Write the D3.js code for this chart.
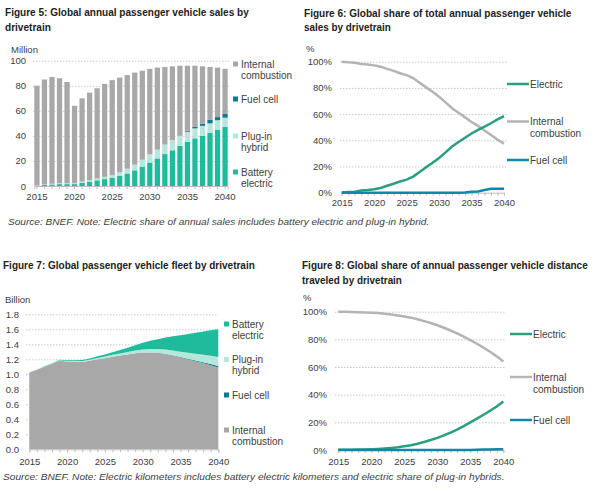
<!DOCTYPE html>
<html>
<head>
<meta charset="utf-8">
<script src="https://cdn.jsdelivr.net/npm/d3@7"></script>
<style>
  body { margin: 0; background: #fff; }
  text { font-family: "Liberation Sans", Arial, sans-serif; }
</style>
</head>
<body>
<svg id="chart" width="600" height="491"></svg>
<script>
// ---- data ----
var years = [2015, 2016, 2017, 2018, 2019, 2020, 2021, 2022, 2023, 2024, 2025, 2026, 2027,
  2028, 2029, 2030, 2031, 2032, 2033, 2034, 2035, 2036, 2037, 2038, 2039, 2040];
var labelYears = [2015, 2020, 2025, 2030, 2035, 2040];

// Figure 5: annual sales, million
var salesBEV = [0.5, 0.8, 1.2, 1.5, 1.5, 1.5, 2.5, 3.5, 4.5, 5.5, 6.5, 8, 10, 12.5, 15.5, 18.8,
  22, 25.5, 28.5, 32, 35.3, 38, 40, 42.5, 45, 47.3];
var salesPHEV = [0.3, 0.4, 0.6, 0.8, 0.7, 0.8, 1.0, 1.2, 1.5, 1.8, 2.3, 3, 3.8, 4.5, 5.5, 6.5,
  7, 7.5, 8, 8, 8, 8, 8, 7.5, 7.5, 7.2];
var salesFC = [0, 0, 0, 0, 0, 0, 0, 0, 0, 0, 0, 0, 0, 0, 0, 0, 0, 0, 0, 0.3, 0.8, 1.2, 1.8, 2.8, 2.5, 3];
var salesICE = [79.2, 83.8, 85.2, 83.7, 80.8, 61.7, 66.5, 69.8, 72, 74.2, 75.7, 75.5, 74.7, 73.5,
  71, 68.2, 65.5, 62, 59, 55.7, 51.9, 48.8, 45.7, 42.2, 39.5, 36];
var salesTicks = [20, 40, 60, 80, 100];

// Figure 6: share of annual sales, %
var shareSalesICE = [100, 99.5, 99.2, 98.2, 97.8, 97.2, 96.2, 94.5, 93, 91.2, 89.8, 87.5, 84, 80.4,
  77, 73.3, 69, 64.5, 61, 57.5, 54, 51, 47.5, 44, 40.5, 37.5];
var shareSalesElectric = [0.2, 0.5, 0.8, 1.6, 2, 2.6, 3.6, 5.3, 6.8, 8.6, 10, 12.3, 15.8, 19.4,
  22.8, 26.5, 30.8, 35.3, 38.7, 42, 45.2, 48, 50.5, 53, 56, 58.5];
var shareSalesFC = [0, 0, 0, 0, 0, 0, 0, 0, 0, 0, 0, 0, 0, 0, 0, 0, 0, 0, 0, 0.2, 0.8, 1, 2, 3, 3, 3];

// Figure 7: fleet, billion
var fleetICE = [1.02, 1.06, 1.10, 1.14, 1.18, 1.17, 1.17, 1.165, 1.18, 1.20, 1.215, 1.235, 1.25,
  1.265, 1.28, 1.29, 1.29, 1.285, 1.27, 1.25, 1.225, 1.20, 1.175, 1.15, 1.12, 1.09];
var fleetFC = [0, 0, 0, 0, 0, 0, 0, 0, 0, 0, 0, 0, 0, 0, 0, 0.001, 0.001, 0.002, 0.003, 0.004,
  0.005, 0.007, 0.009, 0.012, 0.016, 0.02];
var fleetPHEV = [0.002, 0.003, 0.004, 0.005, 0.007, 0.008, 0.010, 0.012, 0.015, 0.018, 0.021,
  0.025, 0.028, 0.032, 0.036, 0.04, 0.045, 0.05, 0.058, 0.065, 0.072, 0.08, 0.09, 0.10, 0.11, 0.12];
var fleetBEV = [0.001, 0.002, 0.003, 0.004, 0.006, 0.008, 0.010, 0.013, 0.017, 0.022, 0.028,
  0.035, 0.045, 0.056, 0.07, 0.09, 0.11, 0.13, 0.16, 0.19, 0.22, 0.25, 0.28, 0.31, 0.34, 0.37];
var fleetTicks = [0, 0.2, 0.4, 0.6, 0.8, 1.0, 1.2, 1.4, 1.6, 1.8];

// Figure 8: share of distance travelled, %
var shareDistICE = [100, 99.9, 99.8, 99.6, 99.5, 99.3, 99, 98.6, 98, 97.3, 96.6, 95.7, 94.5, 93.2,
  91.8, 90.2, 88.4, 86.4, 84.3, 82, 79.5, 76.8, 74, 71, 67.7, 64];
var shareDistElectric = [0.1, 0.1, 0.2, 0.3, 0.4, 0.6, 0.8, 1.1, 1.5, 2.0, 2.7, 3.5, 4.5, 5.8, 7.2,
  8.8, 10.6, 12.6, 14.8, 17.3, 20, 22.7, 25.5, 28.4, 31.5, 35];
var shareDistFC = [0, 0, 0, 0, 0, 0, 0, 0, 0, 0, 0, 0, 0, 0, 0, 0, 0, 0, 0, 0, 0, 0.2, 0.3, 0.4, 0.5, 0.6];
var shareTicks = [0, 20, 40, 60, 80, 100];

// ---- styles ----
var col = { ice: "#a8a8a8", fc: "#0b7c94", phev: "#b5e7dc", bev: "#20bb9c" };
var lineCol = { electric: "#2a9e80", ice: "#b4b4b4", fc: "#0f88a6" };
var gridCol = "#c9c9c9", axisCol = "#bdbdbd", textCol = "#404040";

var svg = d3.select("#chart");
svg.append("rect").attr("width", 600).attr("height", 491).attr("fill", "#fff");

// squeeze a text horizontally to the width it has in the reference
function fitText(x, y, w, t, size, weight, style, fill) {
  var txt = svg.append("text")
    .attr("font-size", size).attr("font-weight", weight).attr("font-style", style)
    .attr("fill", fill)
    .text(t);
  var len = txt.node().getComputedTextLength();
  txt.attr("transform", "translate(" + x + "," + y + ") scale(" + (w / len) + ",1)");
}

function title(x, lines) {
  lines.forEach(function(l) {
    fitText(x, l.y, l.w, l.t, 10.5, "bold", "normal", "#222");
  });
}

function source(x, y, w, t) {
  fitText(x, y, w, t, 9, "normal", "italic", textCol);
}

// y grid + labels
function yGrid(y, x0, x1, ticks, fmt, pad) {
  var g = svg.append("g")
    .attr("transform", "translate(" + x0 + ",0)")
    .call(d3.axisLeft(y).tickValues(ticks).tickFormat(fmt).tickSize(-(x1 - x0)).tickPadding(pad));
  g.select(".domain").remove();
  g.selectAll("line").attr("stroke", gridCol).attr("stroke-dasharray", "1.5,1.5");
  g.selectAll(".tick").filter(function(d) { return d === 0; }).select("line").remove();
  g.selectAll("text").attr("font-size", 9.5).attr("fill", textCol)
    .attr("font-family", "'Liberation Sans', Arial, sans-serif");
  return g;
}

// x axis with a tick per year, labels every five years
function xAxis(x, y0, pad) {
  var g = svg.append("g")
    .attr("transform", "translate(0," + y0 + ")")
    .call(d3.axisBottom(x).tickValues(years).tickSize(3).tickPadding(pad)
      .tickFormat(function(d) { return labelYears.indexOf(d) >= 0 ? d : ""; }));
  g.selectAll("path, line").attr("stroke", axisCol);
  g.selectAll("text").attr("font-size", 9.5).attr("fill", textCol)
    .attr("font-family", "'Liberation Sans', Arial, sans-serif");
  return g;
}

function squareLegend(x, items) {
  items.forEach(function(it) {
    svg.append("rect")
      .attr("x", x).attr("y", it.y - 2.5).attr("width", 5).attr("height", 5)
      .attr("fill", it.color);
    it.lines.forEach(function(l, i) {
      svg.append("text")
        .attr("x", x + 8).attr("y", it.y + i * 11.3).attr("dy", "0.35em")
        .attr("font-size", 10).attr("fill", textCol)
        .text(l);
    });
  });
}

function lineLegend(x, items) {
  items.forEach(function(it) {
    svg.append("line")
      .attr("x1", x).attr("x2", x + 22).attr("y1", it.y).attr("y2", it.y)
      .attr("stroke", it.color).attr("stroke-width", 2.5);
    it.lines.forEach(function(l, i) {
      svg.append("text")
        .attr("x", x + 23).attr("y", it.y + i * 12).attr("dy", "0.35em")
        .attr("font-size", 10).attr("fill", textCol)
        .text(l);
    });
  });
}

// ---- Figure 5: bars ----
(function() {
  var table = years.map(function(yr, i) {
    return { year: yr, bev: salesBEV[i], phev: salesPHEV[i], fc: salesFC[i], ice: salesICE[i] };
  });
  var keys = ["bev", "phev", "fc", "ice"];
  var x = d3.scaleBand().domain(years).range([34.3, 227.7]).paddingInner(0.3);
  var y = d3.scaleLinear().domain([0, 100]).range([186, 60.7]);

  title(5, [
    { t: "Figure 5: Global annual passenger vehicle sales by", y: 16, w: 244 },
    { t: "drivetrain", y: 31, w: 46 }
  ]);
  svg.append("text").attr("x", 11).attr("y", 50).attr("dy", "0.35em")
    .attr("font-size", 9.5).attr("fill", textCol).text("Million");

  yGrid(y, 33, 229, [0].concat(salesTicks), d3.format("d"), 7);

  var series = d3.stack().keys(keys)(table);
  svg.append("g").selectAll("g")
    .data(series)
    .enter().append("g")
    .attr("fill", function(d) { return col[d.key]; })
    .selectAll("rect")
    .data(function(d) { return d; })
    .enter().append("rect")
    .attr("x", function(d) { return x(d.data.year); })
    .attr("y", function(d) { return y(d[1]); })
    .attr("width", x.bandwidth())
    .attr("height", function(d) { return y(d[0]) - y(d[1]); });

  xAxis(x, 186, 4.5);

  squareLegend(233, [
    { lines: ["Internal", "combustion"], y: 64, color: col.ice },
    { lines: ["Fuel cell"], y: 99, color: col.fc },
    { lines: ["Plug-in", "hybrid"], y: 136, color: col.phev },
    { lines: ["Battery", "electric"], y: 172, color: col.bev }
  ]);
})();

// ---- Figure 6: share of sales ----
(function() {
  var x = d3.scaleLinear().domain([2015, 2040]).range([341.7, 504]);
  var y = d3.scaleLinear().domain([0, 100]).range([192.7, 61.7]);

  title(304, [
    { t: "Figure 6: Global share of total annual passenger vehicle", y: 16.5, w: 268 },
    { t: "sales by drivetrain", y: 31, w: 87 }
  ]);
  svg.append("text").attr("x", 306).attr("y", 49).attr("dy", "0.35em")
    .attr("font-size", 9.5).attr("fill", textCol).text("%");

  yGrid(y, 340, 507, shareTicks, function(d) { return d + "%"; }, 8);
  xAxis(x, 192.7, 3.8);

  var line = d3.line()
    .x(function(d, i) { return x(years[i]); })
    .y(function(d) { return y(d); });

  [[shareSalesICE, lineCol.ice], [shareSalesElectric, lineCol.electric], [shareSalesFC, lineCol.fc]]
    .forEach(function(s) {
      svg.append("path").datum(s[0])
        .attr("fill", "none").attr("stroke", s[1]).attr("stroke-width", 2.5)
        .attr("d", line);
    });

  lineLegend(507, [
    { lines: ["Electric"], y: 84, color: lineCol.electric },
    { lines: ["Internal", "combustion"], y: 121.5, color: lineCol.ice },
    { lines: ["Fuel cell"], y: 160, color: lineCol.fc }
  ]);
})();

source(8, 225, 422, "Source: BNEF. Note: Electric share of annual sales includes battery electric and plug-in hybrid.");

// ---- Figure 7: fleet area ----
(function() {
  var table = years.map(function(yr, i) {
    return { year: yr, ice: fleetICE[i], fc: fleetFC[i], phev: fleetPHEV[i], bev: fleetBEV[i] };
  });
  var keys = ["ice", "fc", "phev", "bev"];
  var x = d3.scaleLinear().domain([2015, 2040]).range([29.3, 218.3]);
  var y = d3.scaleLinear().domain([0, 1.8]).range([449.3, 314.3]);

  title(3, [{ t: "Figure 7: Global passenger vehicle fleet by drivetrain", y: 269, w: 252 }]);
  svg.append("text").attr("x", 5).attr("y", 300).attr("dy", "0.35em")
    .attr("font-size", 9.5).attr("fill", textCol).text("Billion");

  yGrid(y, 26, 218, fleetTicks, d3.format(".1f"), 7);

  var area = d3.area()
    .x(function(d) { return x(d.data.year); })
    .y0(function(d) { return y(d[0]); })
    .y1(function(d) { return y(d[1]); });

  svg.append("g").selectAll("path")
    .data(d3.stack().keys(keys)(table))
    .enter().append("path")
    .attr("fill", function(d) { return col[d.key]; })
    .attr("d", area);

  xAxis(x, 449.3, 5.9);

  squareLegend(224, [
    { lines: ["Battery", "electric"], y: 324, color: col.bev },
    { lines: ["Plug-in", "hybrid"], y: 359.5, color: col.phev },
    { lines: ["Fuel cell"], y: 395, color: col.fc },
    { lines: ["Internal", "combustion"], y: 430, color: col.ice }
  ]);
})();

// ---- Figure 8: share of distance ----
(function() {
  var x = d3.scaleLinear().domain([2015, 2040]).range([338.3, 503.3]);
  var y = d3.scaleLinear().domain([0, 100]).range([450, 311.7]);

  title(302, [
    { t: "Figure 8: Global share of annual passenger vehicle distance", y: 269, w: 286 },
    { t: "traveled by drivetrain", y: 284, w: 100 }
  ]);
  svg.append("text").attr("x", 303).attr("y", 298).attr("dy", "0.35em")
    .attr("font-size", 9.5).attr("fill", textCol).text("%");

  yGrid(y, 335, 505, shareTicks, function(d) { return d + "%"; }, 8);
  xAxis(x, 450, 5.2);

  var line = d3.line()
    .x(function(d, i) { return x(years[i]); })
    .y(function(d) { return y(d); });

  [[shareDistICE, lineCol.ice], [shareDistElectric, lineCol.electric], [shareDistFC, lineCol.fc]]
    .forEach(function(s) {
      svg.append("path").datum(s[0])
        .attr("fill", "none").attr("stroke", s[1]).attr("stroke-width", 2.5)
        .attr("d", line);
    });

  lineLegend(510, [
    { lines: ["Electric"], y: 334, color: lineCol.electric },
    { lines: ["Internal", "combustion"], y: 377, color: lineCol.ice },
    { lines: ["Fuel cell"], y: 420, color: lineCol.fc }
  ]);
})();

source(3, 480, 502, "Source: BNEF. Note: Electric kilometers includes battery electric kilometers and electric share of plug-in hybrids.");
</script>
</body>
</html>
